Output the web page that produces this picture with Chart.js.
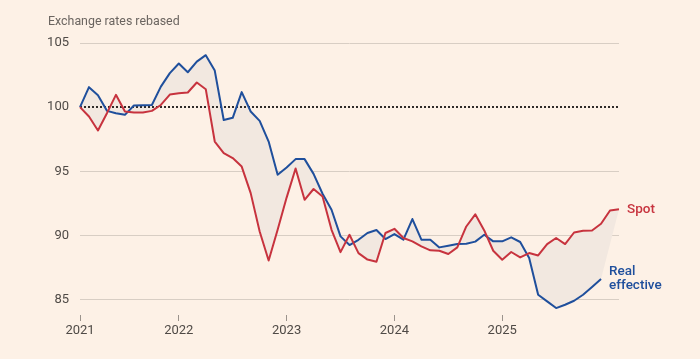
<!DOCTYPE html>
<html>
<head>
<meta charset="utf-8">
<script src="https://cdn.jsdelivr.net/npm/chart.js@4.4.1/dist/chart.umd.min.js"></script>
<style>
html, body { margin: 0; padding: 0; background: #fdf1e6; }
#wrap { width: 700px; height: 359px; position: relative; }
canvas { display: block; }
</style>
</head>
<body>
<div id="wrap"><canvas id="c" width="700" height="359"></canvas></div>
<script>
// ---- Data ----
const months = [
  'Feb 2021','Mar 2021','Apr 2021','May 2021','Jun 2021','Jul 2021','Aug 2021','Sep 2021','Oct 2021','Nov 2021','Dec 2021',
  'Jan 2022','Feb 2022','Mar 2022','Apr 2022','May 2022','Jun 2022','Jul 2022','Aug 2022','Sep 2022','Oct 2022','Nov 2022','Dec 2022',
  'Jan 2023','Feb 2023','Mar 2023','Apr 2023','May 2023','Jun 2023','Jul 2023','Aug 2023','Sep 2023','Oct 2023','Nov 2023','Dec 2023',
  'Jan 2024','Feb 2024','Mar 2024','Apr 2024','May 2024','Jun 2024','Jul 2024','Aug 2024','Sep 2024','Oct 2024','Nov 2024','Dec 2024',
  'Jan 2025','Feb 2025','Mar 2025','Apr 2025','May 2025','Jun 2025','Jul 2025','Aug 2025','Sep 2025','Oct 2025','Nov 2025','Dec 2025',
  'Jan 2026','Feb 2026'
];

const spot = [
  100.0, 99.27, 98.18, 99.53, 100.96, 99.66, 99.58, 99.58, 99.71, 100.17, 100.98,
  101.09, 101.14, 101.92, 101.4, 97.32, 96.42, 96.03, 95.37, 93.3, 90.31, 88.05, 90.45,
  92.95, 95.22, 92.78, 93.62, 93.04, 90.44, 88.7, 90.05, 88.62, 88.12, 87.95, 90.19,
  90.52, 89.8, 89.54, 89.15, 88.84, 88.81, 88.55, 89.07, 90.7, 91.65, 90.39, 88.81,
  88.11, 88.71, 88.29, 88.63, 88.44, 89.33, 89.8, 89.33, 90.23, 90.36, 90.39, 90.91,
  91.95, 92.05
];

const realEffective = [
  100.0, 101.56, 100.93, 99.71, 99.53, 99.4, 100.13, 100.15, 100.17, 101.6, 102.65,
  103.4, 102.72, 103.55, 104.05, 102.85, 99.0, 99.17, 101.17, 99.66, 98.93, 97.32, 94.73,
  95.3, 95.95, 95.95, 94.8, 93.25, 92.0, 89.93, 89.25, 89.66, 90.19, 90.42, 89.72,
  90.11, 89.67, 91.28, 89.67, 89.67, 89.07, 89.2, 89.33, 89.36, 89.52, 90.05, 89.54,
  89.54, 89.85, 89.49, 88.24, 85.38, 84.86, 84.34, 84.6, 84.91, 85.38, 85.98, 86.6
];

const seriesNames = ['Spot', 'Real effective'];
const labelLines = [['Spot'], ['Real', 'effective']];
const yTicks = [85, 90, 95, 100, 105];
const yearTickMonths = ['Feb 2021', 'Jan 2022', 'Jan 2023', 'Jan 2024', 'Jan 2025'];
const yearTickLabels = ['2021', '2022', '2023', '2024', '2025'];
const baseValue = 100;
const titleText = 'Exchange rates rebased';

// Edge of the shaded gap: the real-effective line, closed to the last spot value
const gapEdge = realEffective.concat(
  new Array(spot.length - realEffective.length - 1).fill(null),
  [spot[spot.length - 1]]
);

// ---- Styles ----
const RED = '#c7333e';
const BLUE = '#1f4f9c';
const FILL = '#f2e8e0';
const GRID = '#d8cec4';
const TEXT = '#4f4a46';
const FONT = 'Roboto, "Noto Sans", sans-serif';

const baselinePlugin = {
  id: 'baseline',
  afterDatasetDraw(chart, args) {
    if (args.index !== 2) return;
    const { ctx, chartArea: a, scales: { y } } = chart;
    const py = Math.round(y.getPixelForValue(baseValue));
    ctx.save();
    ctx.strokeStyle = '#2f2b29';
    ctx.lineWidth = 2;
    ctx.setLineDash([2, 2]);
    ctx.beginPath();
    ctx.moveTo(a.left, py);
    ctx.lineTo(a.right, py);
    ctx.stroke();
    ctx.restore();
  }
};

const textPlugin = {
  id: 'texts',
  afterDraw(chart) {
    const ctx = chart.ctx;
    ctx.save();
    ctx.font = '12.4px ' + FONT;
    ctx.fillStyle = '#6b6560';
    ctx.textAlign = 'left';
    ctx.textBaseline = 'middle';
    ctx.fillText(titleText, 48, 22);

    const colors = [RED, BLUE];
    [0, 1].forEach(di => {
      const meta = chart.getDatasetMeta(di);
      const last = meta.data[meta.data.length - 1];
      const lines = labelLines[di];
      ctx.font = '500 13.5px ' + FONT;
      ctx.fillStyle = colors[di];
      const lh = 14;
      const y0 = last.y - (lines.length - 1) * lh / 2;
      lines.forEach((t, k) => ctx.fillText(t, last.x + 8, y0 + k * lh));
    });
    ctx.restore();
  }
};

new Chart(document.getElementById('c').getContext('2d'), {
  type: 'line',
  data: {
    labels: months,
    datasets: [
      { label: seriesNames[0], data: spot, borderColor: RED, borderWidth: 2, pointRadius: 0,
        fill: false, tension: 0, order: 0, borderJoinStyle: 'round' },
      { label: seriesNames[1], data: realEffective, borderColor: BLUE, borderWidth: 2, pointRadius: 0,
        fill: false, tension: 0, order: 1, borderJoinStyle: 'round' },
      { label: 'gap', data: gapEdge, borderWidth: 0, borderColor: 'rgba(0,0,0,0)', pointRadius: 0,
        fill: 0, backgroundColor: FILL, spanGaps: true, tension: 0, order: 3 }
    ]
  },
  options: {
    responsive: false,
    animation: false,
    devicePixelRatio: 1,
    layout: { padding: { top: 43, right: 81, bottom: 0, left: 0 } },
    plugins: { legend: { display: false }, tooltip: { enabled: false }, title: { display: false } },
    scales: {
      x: {
        type: 'category',
        offset: false,
        grid: {
          display: true, drawOnChartArea: false, drawTicks: true, tickLength: 6, tickWidth: 1,
          tickColor: c => yearTickMonths.includes(months[c.index]) ? '#9b938c' : 'rgba(0,0,0,0)'
        },
        border: { display: false },
        ticks: {
          autoSkip: false, maxRotation: 0, minRotation: 0, padding: 2,
          color: TEXT, font: { family: FONT, size: 13 },
          callback: (v, i) => {
            const k = yearTickMonths.indexOf(months[i]);
            return k >= 0 ? yearTickLabels[k] : '';
          }
        },
        afterFit: s => { s.height = 44; }
      },
      y: {
        min: 83.8, max: 105,
        afterBuildTicks: s => { s.ticks = yTicks.map(v => ({ value: v })); },
        grid: {
          drawTicks: false, lineWidth: 1,
          color: c => (c.tick && c.tick.value === baseValue) ? 'rgba(0,0,0,0)' : GRID
        },
        border: { display: false },
        ticks: { padding: 11, color: TEXT, font: { family: FONT, size: 13 } },
        afterFit: s => { s.width = 80; }
      }
    }
  },
  plugins: [baselinePlugin, textPlugin]
});
</script>
</body>
</html>
